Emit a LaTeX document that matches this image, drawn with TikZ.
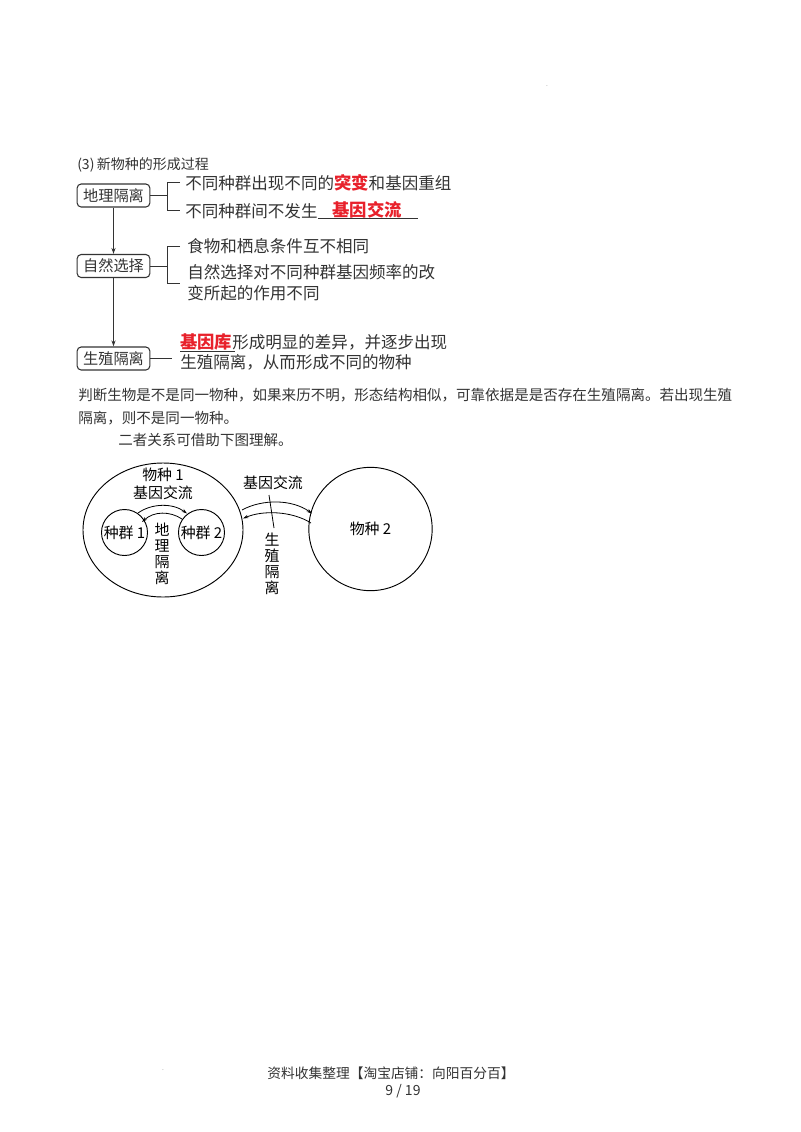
\documentclass[tikz,border=0pt]{standalone}
\usepackage{fontspec}
\setmainfont{Noto Sans CJK SC}
\usetikzlibrary{arrows.meta,shapes.geometric}
\definecolor{txt}{HTML}{333333}
\definecolor{hl}{HTML}{E8212B}
\begin{document}
\begin{tikzpicture}[x=0.75pt,y=-0.75pt,
  box/.style={draw=txt,rounded corners=3pt,line width=0.8pt,minimum width=54.5pt,minimum height=17.25pt,inner sep=0pt,font=\fontsize{11.4}{13}\selectfont,text=txt},
  ln/.style={draw=txt,line width=0.7pt},
  arr/.style={ln,-{Stealth[length=4.5pt,width=3pt]}},
  ft/.style={font=\fontsize{12.4}{14}\selectfont,text=txt,anchor=west,inner sep=0pt},
  pt/.style={font=\fontsize{10.9}{13}\selectfont,text=txt,anchor=west,inner sep=0pt},
  red/.style={font=\fontsize{13}{15}\selectfont\bfseries,text=hl,inner sep=0pt},
  dg/.style={font=\fontsize{11.2}{13}\selectfont,text=black,inner sep=0pt},
  cl/.style={draw=black,line width=0.7pt},
  carr/.style={draw=black,line width=0.6pt,-{Stealth[length=4pt,width=2.5pt]}}]
\useasboundingbox (0,0) rectangle (800,1132);
% stray dots
\node[font=\fontsize{5}{6}\selectfont,text=gray,inner sep=0pt] (dot1) at (547,86) {.};
\node[font=\fontsize{5}{6}\selectfont,text=gray,inner sep=0pt] (dot2) at (163,1070) {.};
% heading
\node[font=\fontsize{10.5}{12}\selectfont,text=txt,anchor=west,inner sep=0pt] (head) at (77,165) {(3)\,新物种的形成过程};
% boxes
\node[box] (b1) at (113.5,195.5) {地理隔离};
\node[box] (b2) at (113.5,266) {自然选择};
\node[box] (b3) at (113.5,358.5) {生殖隔离};
\draw[arr] (b1.south) -- (b2.north);
\draw[arr] (b2.south) -- (b3.north);
% bracket 1
\coordinate (k1) at (167,195.5);
\coordinate (k1t) at (167,182);
\coordinate (k1b) at (167,210);
\draw[ln] (b1.east) -- (k1);
\draw[ln] (180,182) -- (k1t) -- (k1b) -- (180,210);
\node[ft] (t11) at (185,183) {不同种群出现不同的\textcolor{hl}{\fontsize{13}{15}\selectfont\bfseries 突变}和基因重组};
\node[ft] (t12) at (185,211) {不同种群间不发生};
\node[red] (t12r) at (367,210) {基因交流};
\draw[ln] (318,218.5) -- (418,218.5);
% bracket 2
\coordinate (k2) at (167,266);
\coordinate (k2t) at (167,246);
\coordinate (k2b) at (167,283);
\draw[ln] (b2.east) -- (k2);
\draw[ln] (180,246) -- (k2t) -- (k2b) -- (180,283);
\node[ft] (t21) at (187,246) {食物和栖息条件互不相同};
\node[ft] (t22) at (187,272) {自然选择对不同种群基因频率的改};
\node[ft] (t23) at (187,293) {变所起的作用不同};
% box 3
\coordinate (k3) at (172,358.5);
\draw[ln] (b3.east) -- (k3);
\node[ft] (t31) at (180,342) {\textcolor{hl}{\fontsize{13}{15}\selectfont\bfseries 基因库}形成明显的差异，并逐步出现};
\draw[ln] (180,351.5) -- (235,351.5);
\node[ft] (t32) at (180,362) {生殖隔离，从而形成不同的物种};
% paragraph
\node[pt] (p1) at (78,395) {判断生物是不是同一物种，如果来历不明，形态结构相似，可靠依据是是否存在生殖隔离。若出现生殖};
\node[pt] (p2) at (78,418) {隔离，则不是同一物种。};
\node[pt] (p3) at (118,440) {二者关系可借助下图理解。};
% circle diagram
\node[ellipse,cl,minimum width=120pt,minimum height=100.5pt,inner sep=0pt] (s1) at (163,530) {};
\node[circle,cl,minimum size=34.5pt,inner sep=0pt,dg] (q1) at (124.5,532.5) {种群 1};
\node[circle,cl,minimum size=34.5pt,inner sep=0pt,dg] (q2) at (201.5,532.5) {种群 2};
\node[circle,cl,minimum size=92.5pt,inner sep=0pt,dg] (s2) at (370.5,529) {物种 2};
\node[dg] (s1a) at (163,475) {物种 1};
\node[dg] (s1b) at (163,493) {基因交流};
\node[dg,align=center,font=\fontsize{11.2}{12}\selectfont] (geo) at (162,554) {地\\理\\隔\\离};
\coordinate (i1) at (138,513);
\coordinate (i2) at (187,513.5);
\coordinate (i3) at (182,519);
\coordinate (i4) at (142,522);
\draw[carr] (i1) .. controls (152,503) and (173,503) .. (i2);
\draw[carr] (i3) .. controls (170,511) and (154,511) .. (i4);
\coordinate (o1) at (242,510);
\coordinate (o2) at (312,513.5);
\coordinate (o3) at (311,523);
\coordinate (o4) at (243,518.5);
\draw[carr] (o1) .. controls (262,499) and (292,499) .. (o2);
\draw[carr] (o3) .. controls (292,511) and (263,510) .. (o4);
\node[dg] (gf) at (273,483) {基因交流};
\node[dg,align=center,font=\fontsize{11.2}{12}\selectfont] (rep) at (272,564) {生\\殖\\隔\\离};
\coordinate (tk1) at (269,495);
\coordinate (tk2) at (274,528);
\draw[cl,line width=0.6pt] (tk1) -- (tk2);
% footer
\node[font=\fontsize{10.3}{12}\selectfont,text=txt,inner sep=0pt] (foot) at (391,1073) {资料收集整理【淘宝店铺：向阳百分百】};
\node[font=\fontsize{10.5}{12}\selectfont,text=txt,inner sep=0pt] (page) at (403,1091) {9 / 19};
\end{tikzpicture}
\end{document}
